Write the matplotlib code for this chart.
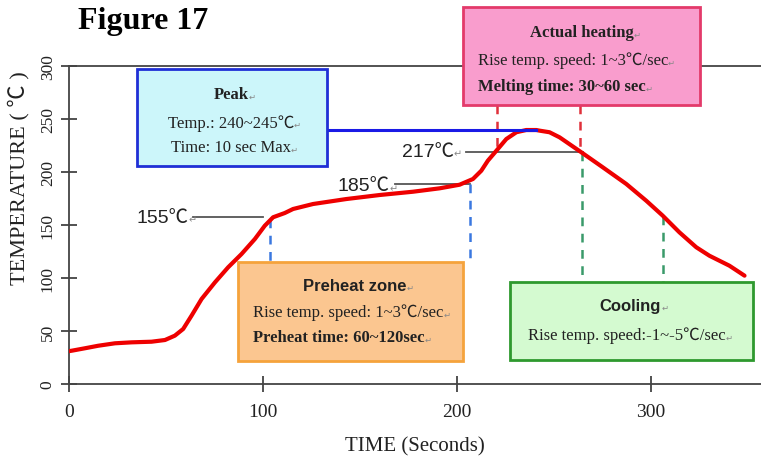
import matplotlib
matplotlib.use("Agg")
import matplotlib.pyplot as plt
from matplotlib.patches import Rectangle

# ---- data ----
time_s = [0, 1.4, 8.2, 15.1, 23.7, 32.3, 42.6, 49.5, 54.6, 58.9, 63.2, 68.4, 75.3, 82.1,
          89.0, 95.9, 101.0, 105.3, 111.3, 115.6, 125.9, 143.1, 160.3, 177.5, 191.2, 201.5,
          208.4, 212.7, 216.1, 220.5, 225.6, 230.8, 235.9, 241.1, 242.8, 247.9, 253.1,
          264.3, 275.4, 287.5, 297.8, 306.3, 314.9, 323.6, 330.4, 340.7, 348.5]
temp_c = [31, 31.4, 33.7, 36.1, 38.4, 39.3, 39.9, 41.5, 45.6, 51.9, 64.4, 80.2, 95.9, 110.1,
          122.6, 136.8, 149.3, 157.3, 161.3, 165.1, 169.8, 174.5, 178.3, 181.4, 184.6, 188.0,
          193.4, 201.2, 210.7, 220.1, 231.1, 237.5, 239.6, 239.6, 239.0, 237.5, 232.7,
          218.6, 204.4, 188.7, 172.9, 158.8, 143.1, 129.0, 121.0, 111.6, 102.2]
x_ticks = [0, 100, 200, 300]
y_ticks = [0, 50, 100, 150, 200, 250, 300]
peak_temp = 240
preheat_start = (103.6, 155.7)
preheat_end = (206.7, 188.7)
melt_temp = 219
melt_start = 220.6
melt_end = 264
cool_end = (306.7, 158.8)

SERIF = ['Liberation Serif', 'Noto Sans CJK TC', 'DejaVu Sans']
SANS = ['Liberation Sans', 'Noto Sans CJK TC', 'DejaVu Sans']

fig = plt.figure(figsize=(7.61, 4.6), dpi=100)
ax = fig.add_axes([69/761, 75/460, 692/761, 318/460])
ax.set_xlim(0, 357)
ax.set_ylim(0, 300)

for s in ['left', 'bottom', 'top']:
    ax.spines[s].set_color('#444444')
    ax.spines[s].set_linewidth(1.3)
ax.spines['right'].set_visible(False)

ax.set_xticks(x_ticks)
ax.set_xticklabels([str(v) for v in x_ticks], fontsize=14, family=SERIF, color='#222222')
ax.set_yticks(y_ticks)
ax.set_yticklabels([str(v) for v in y_ticks], fontsize=12.5, family=SERIF, color='#222222',
                   rotation=90, va='center')
ax.tick_params(direction='inout', length=11, width=1.2, color='#333333')
ax.tick_params(axis='x', pad=8)
ax.tick_params(axis='y', pad=4)

ax.set_xlabel('TIME (Seconds)', fontsize=15, family=SERIF, color='#222222')
ax.xaxis.set_label_coords(0.5, -0.165)
ax.set_ylabel('TEMPERATURE ( ℃ )', fontsize=16, family=SERIF, color='#222222')
ax.yaxis.set_label_coords(-0.057, 0.651)

fig.text(78/761, 1 - 22/460, 'Figure 17', fontsize=23, fontweight='bold', family=SERIF,
         va='center', ha='left')

def mark(t, size=7):
    ax.annotate('↵', xy=(1, 0.1), xycoords=t, fontsize=size, color='#888888',
                family=['DejaVu Sans'], va='bottom', ha='left', annotation_clip=False,
                zorder=9)

# main curve
ax.plot(time_s, temp_c, color='#ee0000', lw=3, zorder=4, solid_capstyle='round',
        solid_joinstyle='round')

# peak line
ax.plot([133, 241], [peak_temp, peak_temp], color='#1a1ae6', lw=2.2, zorder=5)

# grey reference lines and labels
ax.plot([64, 100], [157.5, 157.5], color='#555555', lw=1.3, zorder=3)
ax.plot([168, preheat_end[0]], [preheat_end[1], preheat_end[1]], color='#555555', lw=1.3, zorder=3)
ax.plot([205, melt_end + 1], [melt_temp, melt_temp], color='#555555', lw=1.3, zorder=3)
for tx, ty, s in [(35, 157.5, '155℃'), (138.7, 186.8, '185℃'), (171.6, 218.9, '217℃')]:
    t = ax.text(tx, ty, s, fontsize=14, family=SANS, color='#222222', va='center', ha='left')
    mark(t)

# dashed verticals
dash = dict(lw=1.8, linestyle=(0, (3.5, 3)), zorder=3)
ax.plot([preheat_start[0]] * 2, [preheat_start[1], 115], color='#3a78e0', **dash)
ax.plot([preheat_end[0]] * 2, [preheat_end[1], 117], color='#3a78e0', **dash)
ax.plot([melt_start] * 2, [263, melt_temp], color='#e0303a', **dash)
ax.plot([melt_end - 0.6] * 2, [263, melt_temp], color='#e0303a', **dash)
ax.plot([melt_end + 0.4] * 2, [melt_temp, 96], color='#3a9a6a', **dash)
ax.plot([cool_end[0]] * 2, [cool_end[1], 96], color='#3a9a6a', **dash)

# boxes
def box(x0, x1, y0, y1, fc, ec):
    ax.add_patch(Rectangle((x0, y0), x1 - x0, y1 - y0, facecolor=fc, edgecolor=ec,
                           lw=2, zorder=6, clip_on=False))

box(35.1, 133.1, 206, 297, '#ccf6fa', '#1f2fd6')
box(203.3, 325.6, 263.5, 355.5, '#f99dcd', '#e33a6a')
box(87.2, 203.3, 21.8, 115.2, '#fbc690', '#f5a33c')
box(227.6, 353, 22.7, 96.3, '#d4fad0', '#2e992e')

def txt(x, y, s, family=SERIF, size=12, weight='normal', ha='center', color='#222222'):
    t = ax.text(x, y, s, fontsize=size, family=family, fontweight=weight, ha=ha,
                va='center', color=color, zorder=7, clip_on=False)
    mark(t, 6)
    return t

# Peak
txt(83.5, 273.6, 'Peak', weight='bold')
txt(83.5, 247, 'Temp.: 240~245℃')
txt(83.5, 223.6, 'Time: 10 sec Max')
# Actual heating
txt(264.4, 332, 'Actual heating', weight='bold')
txt(210.8, 305.7, 'Rise temp. speed: 1~3℃/sec', ha='left')
txt(210.8, 281.1, 'Melting time: 30~60 sec', ha='left', weight='bold')
# Preheat
txt(147.4, 92.5, 'Preheat zone', family=SANS, weight='bold')
txt(94.8, 67.9, 'Rise temp. speed: 1~3℃/sec', ha='left')
txt(94.8, 44.3, 'Preheat time: 60~120sec', ha='left', weight='bold')
# Cooling
txt(289.7, 73.6, 'Cooling', family=SANS, weight='bold')
txt(288, 46.2, 'Rise temp. speed:-1~-5℃/sec')

fig.savefig('out.png', dpi=100)
